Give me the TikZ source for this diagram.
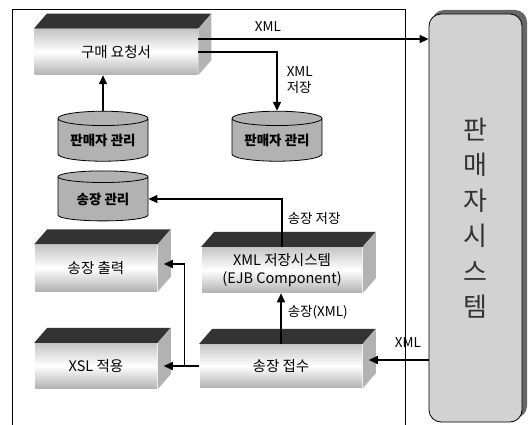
\documentclass[tikz,border=0pt]{standalone}
\usepackage{fontspec}
\setmainfont{Noto Sans CJK KR}
\usetikzlibrary{arrows.meta, shapes.geometric, calc}

% top and side faces of a block
\newcommand{\blockfaces}[1]{%
  \fill[topface] (#1.north west) -- ($(#1.north west)+(13,-15)$) -- ($(#1.north east)+(13,-15)$) -- (#1.north east) -- cycle;
  \fill[sideface] (#1.north east) -- ($(#1.north east)+(13,-15)$) -- ($(#1.south east)+(13,-15)$) -- (#1.south east) -- cycle;
}

\begin{document}
\begin{tikzpicture}[
x=1pt, y=-1pt,
>={Triangle[length=9pt,width=8pt]},
line width=1.5pt,
block/.style={inner sep=0pt, align=center, top color=gray!45, bottom color=gray!60, middle color=white, font=\fontsize{14.5}{18}\selectfont},
topface/.style={fill=black!80},
sideface/.style={fill=gray!60},
db/.style={cylinder, shape border rotate=90, aspect=0.22, draw=black, line width=0.8pt, fill=gray!60, minimum width=90pt, minimum height=50pt, inner sep=0pt, font=\bfseries\fontsize{13.5}{15}\selectfont},
lbl/.style={inner sep=1pt, font=\fontsize{13.5}{16}\selectfont},
]
\useasboundingbox (0,0) rectangle (532,425);

%% frame
\draw[line width=0.8pt] (12,425) -- (12,9) -- (405,9) -- (405,425);

%% seller system
\fill[black!60, rounded corners=12pt] (432,10) rectangle (527,418);
\node[draw=black, line width=0.8pt, rounded corners=12pt, fill=gray!35, minimum width=93pt, minimum height=408pt, align=center, text=black!80, font=\fontsize{26}{35.5}\selectfont] (sys) at (475.5,218) {판\\매\\자\\시\\스\\템};

% nodes
\node[block, minimum width=163pt, minimum height=45pt] (req) at (116,52) {구매 요청서};
\node[block, minimum width=160pt, minimum height=45pt] (store) at (282,270) {XML 저장시스템\\(EJB Component)};
\node[block, minimum width=122pt, minimum height=46pt] (print) at (96,268) {송장 출력};
\node[block, minimum width=122pt, minimum height=45pt] (xsl) at (96,366) {XSL 적용};
\node[block, minimum width=162pt, minimum height=43pt] (recv) at (281,366) {송장 접수};
\blockfaces{req}
\blockfaces{store}
\blockfaces{print}
\blockfaces{xsl}
\blockfaces{recv}

\node[db] (sellerA) at (103,140) {판매자 관리};
\node[db] (sellerB) at (277,140) {판매자 관리};
\node[db] (invoice) at (103,199) {송장 관리};

% labels
\node[lbl] (xmlTop) at (268,27) {XML};
\node[lbl, anchor=west, align=left] (xmlSave) at (285,80) {XML\\저장};
\node[lbl, anchor=west] (saveLbl) at (286,218) {송장 저장};
\node[lbl, anchor=west] (recvLbl) at (286,312) {송장(XML)};
\node[lbl] (xmlIn) at (408,343) {XML};

% arrows
\coordinate (reqOut) at ([yshift=13pt]req.east);
\draw[->] (reqOut) -- (reqOut -| sys.west);
\draw[->] (req.east) -| (sellerB.north);
\draw[->] (sellerA.north) -- (sellerA.north |- req.south);
\draw[->] (store.north) |- (invoice.east);
\draw[->] (recv.north) -- (recv.north |- store.south);
\coordinate (recvIn) at ([shift={(6pt,6pt)}]recv.east);
\draw[->] (recvIn -| sys.west) -- (recvIn);
\coordinate (split) at ([xshift=-15pt]recv.west);
\draw[->] (recv.west) -- ([xshift=6pt]xsl.east);
\draw[->] (split) |- ([shift={(6pt,4pt)}]print.east);
\end{tikzpicture}
\end{document}
